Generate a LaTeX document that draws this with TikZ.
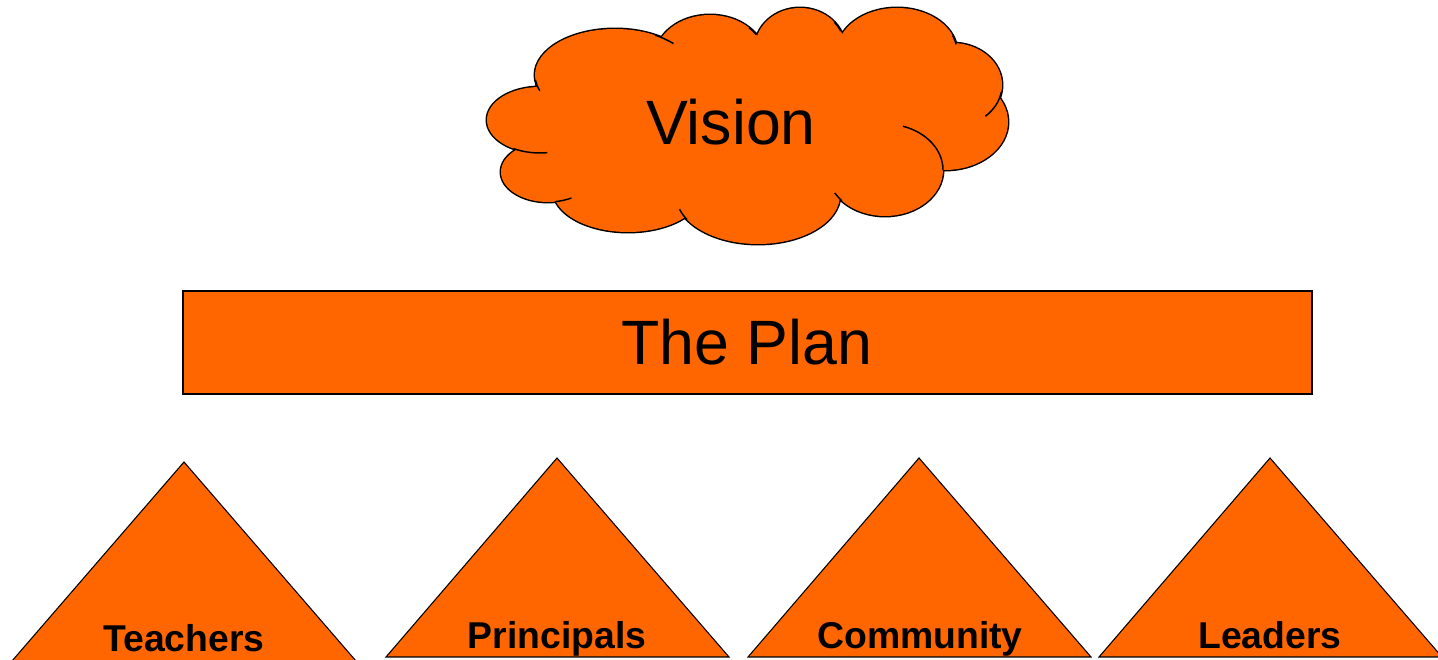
\documentclass[tikz,border=0pt]{standalone}
\usepackage{fontspec}
\setmainfont{Liberation Sans}
\usepackage{xcolor}
\definecolor{arancio}{HTML}{FF6600}

\begin{document}
\begin{tikzpicture}[x=0.75pt, y=0.75pt]
        \useasboundingbox (0,0) rectangle (1438,660);

        % Nuvola (unione di ellissi)
        \path[fill=arancio, preaction={draw, line width=2.2pt}]
            (540,540) ellipse (53 and 33)
            (615,585) ellipse (80 and 46)
            (710,602) ellipse (55 and 43)
            (800,612) ellipse (45 and 40)
            (897,608) ellipse (60 and 44)
            (952,575) ellipse (50 and 42)
            (945,538) ellipse (63 and 48)
            (885,490) ellipse (58 and 46)
            (758,465) ellipse (82 and 49)
            (628,470) ellipse (75 and 42)
            (548,488) ellipse (47 and 30)
            (745,535) ellipse (210 and 80);
        % Archi interni
        \draw[line width=1.1pt] (540,540) ++(240:53 and 33) arc[start angle=240, end angle=278, x radius=53, y radius=33];
        \draw[line width=1.1pt] (615,585) ++(186:80 and 46) arc[start angle=186, end angle=200, x radius=80, y radius=46];
        \draw[line width=1.1pt] (615,585) ++(60:80 and 46) arc[start angle=60, end angle=43, x radius=80, y radius=46];
        \draw[line width=1.1pt] (710,602) ++(45:55 and 43) arc[start angle=45, end angle=33, x radius=55, y radius=43];
        \draw[line width=1.1pt] (800,612) ++(40:45 and 40) arc[start angle=40, end angle=25, x radius=45, y radius=40];
        \draw[line width=1.1pt] (897,608) ++(22:60 and 44) arc[start angle=22, end angle=10, x radius=60, y radius=44];
        \draw[line width=1.1pt] (952,575) ++(-10:50 and 42) arc[start angle=-10, end angle=-48, x radius=50, y radius=42];
        \draw[line width=1.1pt] (885,490) ++(0:58 and 46) arc[start angle=0, end angle=72, x radius=58, y radius=46];
        \draw[line width=1.1pt] (885,490) ++(210:58 and 46) arc[start angle=210, end angle=222, x radius=58, y radius=46];
        \draw[line width=1.1pt] (758,465) ++(197:82 and 49) arc[start angle=197, end angle=210, x radius=82, y radius=49];
        \draw[line width=1.1pt] (548,488) ++(279:47 and 30) arc[start angle=279, end angle=300, x radius=47, y radius=30];
        \node[font=\fontsize{47}{56}\selectfont, anchor=base] (vision) at (731,515) {Vision};

        % Rettangolo del piano
        \draw[fill=arancio, line width=0.8pt] (183,266) rectangle (1312,369);
        \node[font=\fontsize{47}{56}\selectfont, anchor=base] (piano) at (747,295) {The Plan};

        % Triangoli
        \draw[fill=arancio, line width=0.8pt] (12,-1) -- (184,198) -- (356,-1) -- cycle;
        \draw[fill=arancio, line width=0.8pt] (386,3) -- (557,202) -- (729,3) -- cycle;
        \draw[fill=arancio, line width=0.8pt] (748,3) -- (919,202) -- (1091,3) -- cycle;
        \draw[fill=arancio, line width=0.8pt] (1099,3) -- (1270,202) -- (1442,3) -- cycle;

        % Etichette
        \node[font=\fontsize{28}{34}\selectfont\bfseries, anchor=base] (insegnanti) at (184,8) {Teachers};
        \node[font=\fontsize{28}{34}\selectfont\bfseries, anchor=base] (presidi) at (557,11) {Principals};
        \node[font=\fontsize{28}{34}\selectfont\bfseries, anchor=base] (comunita) at (920,11) {Community};
        \node[font=\fontsize{28}{34}\selectfont\bfseries, anchor=base] (leader) at (1270,11) {Leaders};
    \end{tikzpicture}
\end{document}
